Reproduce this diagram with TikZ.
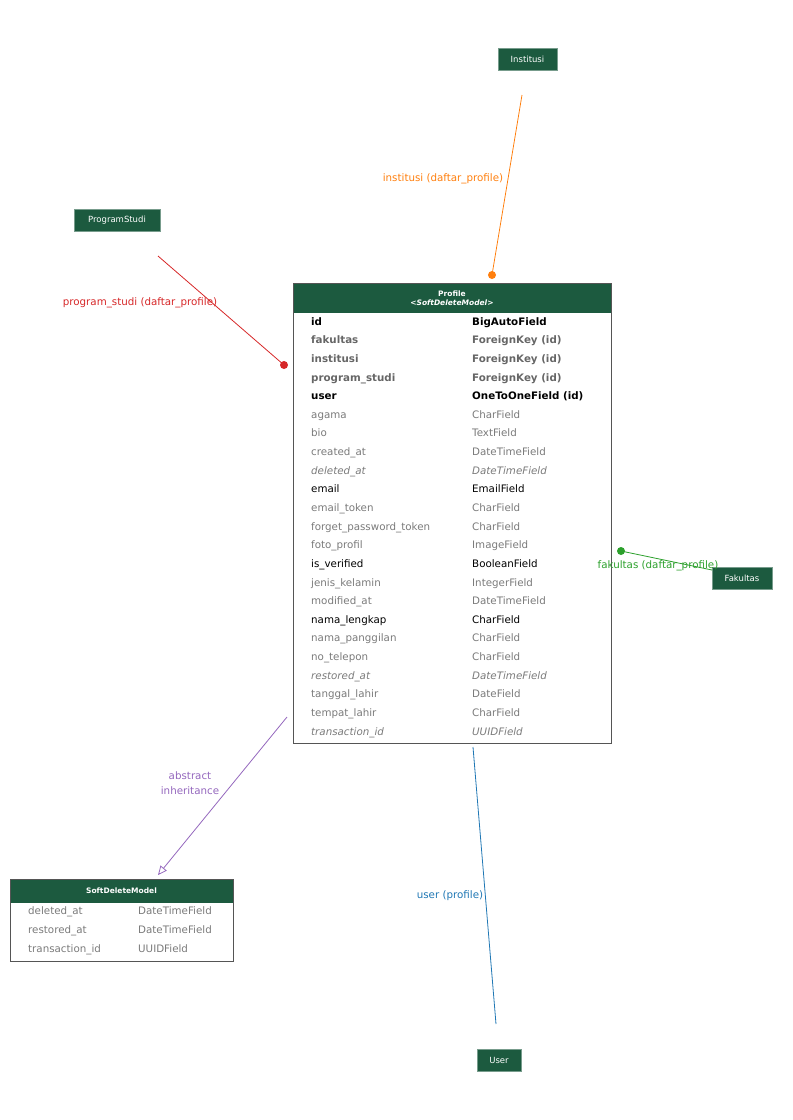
\documentclass[tikz,border=0pt]{standalone}
\usepackage{fontspec}
\setmainfont{DejaVu Sans}
\usetikzlibrary{arrows.meta}
\definecolor{hdr}{HTML}{1C5A3F}
\definecolor{bordc}{HTML}{555555}
\definecolor{gtxt}{HTML}{7A7A7A}
\definecolor{gbold}{HTML}{666666}
\definecolor{corange}{HTML}{FF7F0E}
\definecolor{cred}{HTML}{D62728}
\definecolor{cgreen}{HTML}{2CA02C}
\definecolor{cblue}{HTML}{1F77B4}
\definecolor{cpurple}{HTML}{9467BD}
\tikzset{
  smallbox/.style={fill=hdr, draw=hdr!60!white, line width=0.8pt, text=white, font=\fontsize{8.5}{9}\selectfont, inner sep=0pt, minimum height=22pt, anchor=center},
  fld/.style={anchor=west, inner sep=0pt, text height=7.6pt, text depth=2.4pt, font=\fontsize{10.3}{12}\selectfont},
  pk/.style={fld, font=\fontsize{10.3}{12}\selectfont\bfseries, text=black},
  fk/.style={fld, font=\fontsize{10.3}{12}\selectfont\bfseries, text=gbold},
  nn/.style={fld, text=black},
  nul/.style={fld, text=gtxt},
  inh/.style={fld, text=gtxt, font=\fontsize{10.3}{12}\selectfont\itshape},
  rel/.style={line width=0.8pt},
  dot/.style={circle, fill, inner sep=0pt, minimum size=8pt},
  elabel/.style={inner sep=0pt, font=\fontsize{10.3}{12}\selectfont},
}
\newcommand{\frow}[4]{%
  \node[#1] (pn#4) at (311,{322.5+(#4-1)*18.64}) {#2};
  \node[#1] (pt#4) at (472,{322.5+(#4-1)*18.64}) {#3};}
\begin{document}
\begin{tikzpicture}[x=1pt, y=-1pt]
\useasboundingbox (0,0) rectangle (793,1120);

% Small entity boxes
\node[smallbox, minimum width=59pt] (inst) at (527.5,59) {Institusi};
\node[smallbox, minimum width=86pt] (prodi) at (117,220) {ProgramStudi};
\node[smallbox, minimum width=60pt] (fak) at (742,578.5) {Fakultas};
\node[smallbox, minimum width=44pt] (usr) at (499,1060) {User};

% Profile table
\draw[bordc, line width=1pt] (293,283) rectangle (611,743);
\fill[hdr] (293.5,283.5) rectangle (610.5,313);
\node[inner sep=0pt, text=white, font=\fontsize{7.5}{8}\selectfont\bfseries] (ptitle) at (452,294) {Profile};
\node[inner sep=0pt, text=white, font=\fontsize{7.5}{8}\selectfont\bfseries] (pster) at (452,303) {<\textit{SoftDeleteModel}>};

\frow{pk}{id}{BigAutoField}{1}
\frow{fk}{fakultas}{ForeignKey (id)}{2}
\frow{fk}{institusi}{ForeignKey (id)}{3}
\frow{fk}{program\_studi}{ForeignKey (id)}{4}
\frow{pk}{user}{OneToOneField (id)}{5}
\frow{nul}{agama}{CharField}{6}
\frow{nul}{bio}{TextField}{7}
\frow{nul}{created\_at}{DateTimeField}{8}
\frow{inh}{deleted\_at}{DateTimeField}{9}
\frow{nn}{email}{EmailField}{10}
\frow{nul}{email\_token}{CharField}{11}
\frow{nul}{forget\_password\_token}{CharField}{12}
\frow{nul}{foto\_profil}{ImageField}{13}
\frow{nn}{is\_verified}{BooleanField}{14}
\frow{nul}{jenis\_kelamin}{IntegerField}{15}
\frow{nul}{modified\_at}{DateTimeField}{16}
\frow{nn}{nama\_lengkap}{CharField}{17}
\frow{nul}{nama\_panggilan}{CharField}{18}
\frow{nul}{no\_telepon}{CharField}{19}
\frow{inh}{restored\_at}{DateTimeField}{20}
\frow{nul}{tanggal\_lahir}{DateField}{21}
\frow{nul}{tempat\_lahir}{CharField}{22}
\frow{inh}{transaction\_id}{UUIDField}{23}

% SoftDeleteModel table
\draw[bordc, line width=1pt] (10,879) rectangle (233,961);
\fill[hdr] (10.5,879.5) rectangle (232.5,903);
\node[inner sep=0pt, text=white, font=\fontsize{7.5}{8}\selectfont\bfseries] (stitle) at (121.5,891) {SoftDeleteModel};
\node[nul] (sn1) at (28,912) {deleted\_at};
\node[nul] (st1) at (138,912) {DateTimeField};
\node[nul] (sn2) at (28,931) {restored\_at};
\node[nul] (st2) at (138,931) {DateTimeField};
\node[nul] (sn3) at (28,950) {transaction\_id};
\node[nul] (st3) at (138,950) {UUIDField};

% Connector end points
\coordinate (instA) at (522,95);
\coordinate (instB) at (492,275);
\coordinate (prodiA) at (158,256);
\coordinate (prodiB) at (284,365);
\coordinate (fakA) at (712,570);
\coordinate (fakB) at (621,551);
\coordinate (usrA) at (496,1024);
\coordinate (usrB) at (473,747);
\coordinate (inhA) at (287,717);
\coordinate (inhB) at (158,875);

% Relations
\draw[rel, corange] (instA) -- (instB);
\node[dot, corange] (instD) at (instB) {};
\node[elabel, text=corange] (instL) at (443,179) {institusi (daftar\_profile)};

\draw[rel, cred] (prodiA) -- (prodiB);
\node[dot, cred] (prodiD) at (prodiB) {};
\node[elabel, text=cred] (prodiL) at (140,303) {program\_studi (daftar\_profile)};

\draw[rel, cgreen] (fakA) -- (fakB);
\node[dot, cgreen] (fakD) at (fakB) {};
\node[elabel, text=cgreen] (fakL) at (658,566) {fakultas (daftar\_profile)};

\draw[rel, cblue] (usrA) -- (usrB);
\node[elabel, text=cblue] (usrL) at (450,896) {user (profile)};

\draw[rel, cpurple, -{Triangle[open, length=9pt, width=8pt]}] (inhA) -- (inhB);
\node[elabel, text=cpurple, align=center, font=\fontsize{10.3}{15}\selectfont] (inhL) at (190,783) {abstract\\inheritance};
\end{tikzpicture}
\end{document}
